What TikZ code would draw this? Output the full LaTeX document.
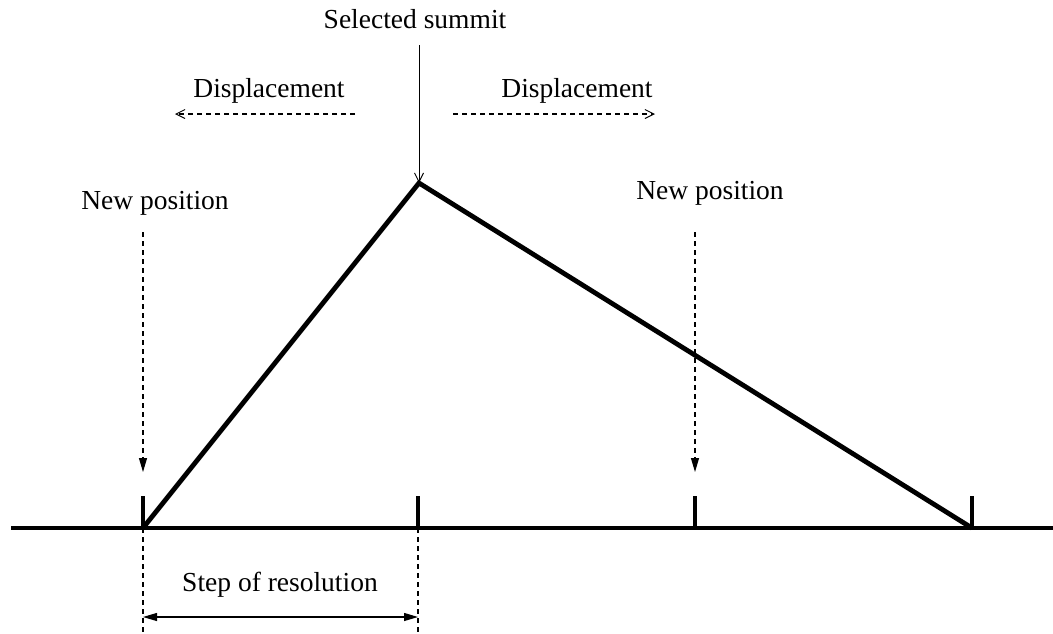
\documentclass[tikz,border=0pt]{standalone}
\usepackage{fontspec}
\setmainfont{Liberation Serif}
\usetikzlibrary{arrows.meta}
\begin{document}
\begin{tikzpicture}[x=1pt,y=-1pt,
  lbl/.style={inner sep=0pt,anchor=base,font=\fontsize{27.5}{31}\selectfont},
  thick line/.style={line width=4.8pt},
  tickmark/.style={line width=4pt},
  guide/.style={line width=1.1pt,dash pattern=on 5pt off 4pt},
  opentip/.style={-{Straight Barb[length=9pt,width=9pt,line width=1pt]}},
  filledtip/.style={-{Triangle[length=14pt,width=8pt]}}]
  \useasboundingbox (0,0) rectangle (1053,633);

  % ground line and resolution ticks
  \coordinate (g0) at (11,528);
  \coordinate (g1) at (1053,528);
  \draw[line width=4pt] (g0) -- (g1);
  \coordinate (t1) at (143,528); \coordinate (t1u) at (143,496);
  \coordinate (t2) at (418,528); \coordinate (t2u) at (418,496);
  \coordinate (t3) at (695,528); \coordinate (t3u) at (695,496);
  \coordinate (t4) at (972,528); \coordinate (t4u) at (972,496);
  \foreach \t in {1,2,3,4} \draw[tickmark] (t\t) -- (t\t u);

  % triangle
  \coordinate (apex) at (419,183);
  \draw[thick line,line join=miter] (t1) -- (apex) -- (t4);

  % selected summit
  \node[lbl] (sel) at (415,28) {Selected summit};
  \coordinate (selTop) at (419,45);
  \draw[line width=1pt,opentip] (selTop) -- (apex);

  % displacements
  \node[lbl] (dl) at (269,97) {Displacement};
  \node[lbl] (dr) at (577,97) {Displacement};
  \coordinate (dlA) at (355,114); \coordinate (dlB) at (175,114);
  \coordinate (drA) at (453,114); \coordinate (drB) at (655,114);
  \draw[guide,opentip] (dlA) -- (dlB);
  \draw[guide,opentip] (drA) -- (drB);

  % new positions
  \node[lbl] (npl) at (155,209) {New position};
  \node[lbl] (npr) at (710,199) {New position};
  \coordinate (nplA) at (143,232); \coordinate (nplB) at (143,472);
  \coordinate (nprA) at (695,232); \coordinate (nprB) at (695,472);
  \draw[guide,filledtip] (nplA) -- (nplB);
  \draw[guide,filledtip] (nprA) -- (nprB);

  % step of resolution
  \coordinate (s1) at (143,633); \coordinate (s2) at (418,633);
  \draw[guide] (t1) -- (s1);
  \draw[guide] (t2) -- (s2);
  \node[lbl] (step) at (280,591) {Step of resolution};
  \coordinate (a1) at (143,617); \coordinate (a2) at (418,617);
  \draw[line width=1.1pt,{Triangle[length=14pt,width=8pt]}-{Triangle[length=14pt,width=8pt]}] (a1) -- (a2);
\end{tikzpicture}
\end{document}
